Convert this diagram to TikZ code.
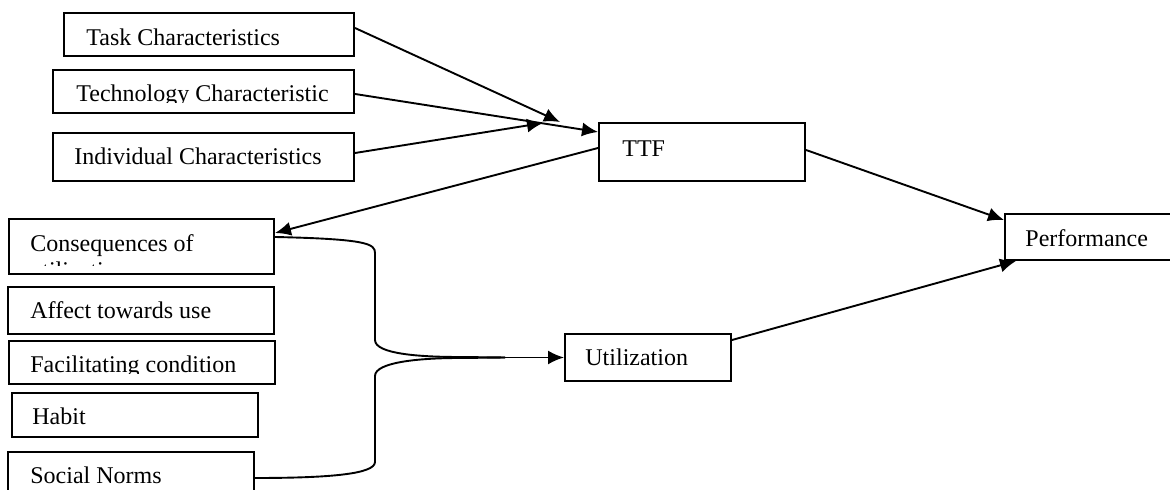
\documentclass[tikz,border=0pt]{standalone}
\usepackage{fontspec}
\setmainfont{Liberation Serif}
\usetikzlibrary{arrows.meta,fit}
\tikzset{boite/.style={draw, line width=1pt, inner sep=0pt},
         trait/.style={line width=.95pt},
         fleche/.style={line width=.95pt, -{Latex[length=8pt,width=7pt]}},
         texte/.style={anchor=base west, inner sep=0pt, font=\fontsize{12}{13.8}\selectfont}}
\begin{document}
\begin{tikzpicture}[x=.5pt,y=-.5pt]  % ------ TTF et utilisation -------------------
\useasboundingbox (0,0) rectangle (1170,490);
    % boites
    \node[boite, fit={(64,13) (354,56)}]    (task) {};
    \node[boite, fit={(53,70) (354,113)}]   (tech) {};
    \node[boite, fit={(53,133) (354,181)}]  (indiv) {};
    \node[boite, fit={(599,123) (805,181)}] (ttf) {};
    \node[boite, fit={(1005,214) (1190,260)}] (perf) {};
    \node[boite, fit={(9,219) (274,274)}]   (cons) {};
    \node[boite, fit={(8,287) (274,334)}]   (affect) {};
    \node[boite, fit={(9,341) (275,384)}]   (facil) {};
    \node[boite, fit={(12,393) (258,437)}]  (habit) {};
    \node[boite, fit={(8,452) (254,500)}]   (social) {};
    \node[boite, fit={(565,334) (731,381)}] (util) {};
    % textes
    \node[texte] (ttask) at (86,46) {Task Characteristics};
    \begin{scope} \clip (53,70) rectangle (354,103);
      \node[texte] (ttech) at (76,101.5) {Technology Characteristic};
    \end{scope}
    \node[texte] (tindiv) at (74,165) {Individual Characteristics};
    \node[texte] (tttf) at (622,157) {TTF};
    \node[texte] (tperf) at (1025,247) {Performance};
    \begin{scope} \clip (9,219) rectangle (274,265.5);
      \node[texte] (tcons) at (30,252) {Consequences of};
      \node[texte] (tcons2) at (30,279) {utilization};
    \end{scope}
    \node[texte] (taffect) at (30,319) {Affect towards use};
    \begin{scope} \clip (9,341) rectangle (275,374);
      \node[texte] (tfacil) at (30,373) {Facilitating condition};
    \end{scope}
    \node[texte] (thabit) at (32,425) {Habit};
    \node[texte] (tsocial) at (30,483) {Social Norms};
    \node[texte] (tutil) at (585,366) {Utilization};
    % fleches
    \coordinate (ptask) at (560,122);
    \coordinate (pindiv) at (543,123);
    \coordinate (pointe) at (505,357.5);
    \draw[fleche] ([yshift=3.25pt]task.east) -- (ptask);
    \draw[fleche] ([yshift=-1.25pt]tech.east) -- ([yshift=10pt]ttf.west);
    \draw[fleche] ([yshift=2pt]indiv.east) -- (pindiv);
    \draw[fleche] ([yshift=2pt]ttf.west) -- ([yshift=6.75pt]cons.east);
    \draw[fleche] ([yshift=1pt]ttf.east) -- ([yshift=8.5pt]perf.west);
    \draw[fleche] ([yshift=8.75pt]util.east) -- ([xshift=6pt]perf.south west);
    % accolade
    \draw[trait] ([yshift=4.75pt]cons.east) .. controls (368,239) and (375,244) .. (375,253)
          -- (375,340) .. controls (375,354) and (420,357) .. (460,357) -- (pointe);
    \draw[trait] (pointe) -- (460,358) .. controls (420,358) and (375,362) .. (375,376)
          -- (375,462) .. controls (375,474) and (330,478) .. ([yshift=-1pt]social.east);
    \draw[fleche] (pointe) -- (util.west);
\end{tikzpicture}
\end{document}
